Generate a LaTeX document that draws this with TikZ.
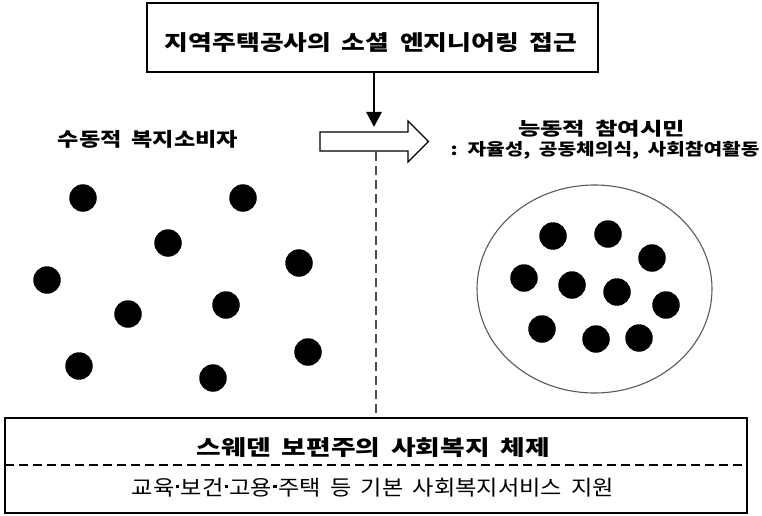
\documentclass[tikz,border=0pt]{standalone}
\usepackage{fontspec}
\usepackage{graphicx}
\setmainfont[WordSpace=1.8]{Noto Sans CJK KR}
\usetikzlibrary{arrows.meta,shapes.geometric}
\newcommand\fitto[3]{\resizebox*{#1}{#2}{#3}}
\newcommand\mdt{\kern.06em\raisebox{.36em}{\rule{.14em}{.14em}}\kern.06em}
\begin{document}
\begin{tikzpicture}[x=1pt,y=-1pt,
  box/.style={draw=black, line width=1.5pt, inner sep=0pt, fill=white},
  dot/.style={circle, fill=black, minimum size=27.5pt, inner sep=0pt},
  lbl/.style={inner sep=0pt, anchor=center, text=black, font=\fontsize{20}{24}\selectfont\bfseries},
  dashline/.style={line width=1.6pt, dash pattern=on 9pt off 5pt},
]
\useasboundingbox (0,0) rectangle (762,516);

% top box
\node[box, minimum width=451pt, minimum height=69pt] (top) at (372.5,37.5) {};
\node[lbl] (toptxt) at (371,43) {\fitto{412pt}{20pt}{지역주택공사의 소셜 엔지니어링 접근}};

% bottom box
\node[box, minimum width=742pt, minimum height=95pt] (bot) at (376,465.5) {};
\coordinate (sepL) at (5,465);
\coordinate (sepR) at (747,465);
\draw[dashline] (sepL) -- (sepR);
\node[lbl] (bottitle) at (373.5,448) {\fitto{353pt}{20pt}{스웨덴 보편주의 사회복지 체제}};
\node[lbl, font=\fontsize{20}{24}\selectfont\mdseries] (botsub) at (373,488) {\fitto{482pt}{19pt}{교육\mdt 보건\mdt 고용\mdt 주택 등 기본 사회복지서비스 지원}};

% down arrow
\coordinate (tip) at (374,127);
\draw[line width=2.8pt, -{Triangle[length=15pt,width=15pt]}] (top.south -| tip) -- (tip);

% block arrow
\filldraw[fill=white, draw=black, line width=1.2pt]
  (320,132) -- (408,132) -- (408,121) -- (428.5,141.5) -- (408,162) -- (408,151) -- (320,151) -- cycle;

% dashed vertical
\coordinate (dtop) at (376,152);
\draw[dashline, draw=black!70] (dtop) -- (bot.north -| dtop);

% labels
\node[lbl] (left) at (148,139) {\fitto{180pt}{18pt}{수동적 복지소비자}};
\node[lbl] (right1) at (601.5,128.5) {\fitto{167pt}{17pt}{능동적 참여시민}};
\node[lbl] (right2) at (605,150.5) {\fitto{309pt}{18pt}{: 자율성, 공동체의식, 사회참여활동}};

% left dots
\foreach \n/\x/\y in {a/83/198, b/243/198, c/168/243, d/299/263, e/47/280, f/128/314, g/226/305, h/79/366, i/213/378, j/308/352}
  \node[dot] (l\n) at (\x,\y) {};

% ellipse
\node[draw=black!65, line width=1.1pt, ellipse, minimum width=235pt, minimum height=208pt, inner sep=0pt] (grp) at (594.5,289) {};

% right dots
\foreach \n/\x/\y in {a/553/236, b/608/234, c/652/258, d/524/278, e/572/285, f/617/292, g/666/305, h/542/329, i/596/339, j/639/338}
  \node[dot] (r\n) at (\x,\y) {};
\end{tikzpicture}
\end{document}
